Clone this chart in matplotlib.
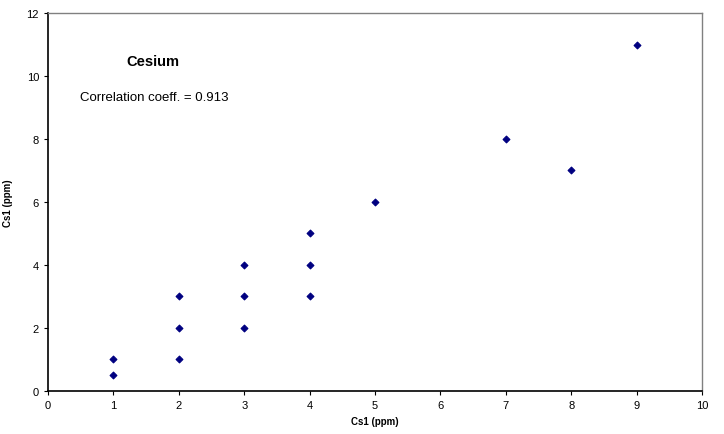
import matplotlib.pyplot as plt

plt.rcParams['font.family'] = ['Liberation Sans', 'DejaVu Sans']

x_vals = [1, 1, 2, 2, 2, 3, 3, 3, 4, 4, 4, 5, 7, 8, 9]
y_vals = [1, 0.5, 3, 2, 1, 4, 3, 2, 5, 4, 3, 6, 8, 7, 11]
x_ticks = list(range(0, 11))
y_ticks = [0, 2, 4, 6, 8, 10, 12]

fig = plt.figure(figsize=(7.24, 4.35), dpi=100)
ax = fig.add_axes([0.0663, 0.0989, 0.9033, 0.8689])

ax.scatter(x_vals, y_vals, marker='D', s=12, color='#000080', edgecolors='#000080', linewidths=0.8, zorder=3)

ax.set_xlim(0, 10)
ax.set_ylim(0, 12)
ax.set_xticks(x_ticks)
ax.set_yticks(y_ticks)
ax.tick_params(labelsize=8, length=3, width=0.8, direction='out')

for side in ['top', 'right']:
    ax.spines[side].set_color('#808080')
    ax.spines[side].set_linewidth(1.0)
for side in ['left', 'bottom']:
    ax.spines[side].set_color('black')
    ax.spines[side].set_linewidth(1.2)

ax.set_xlabel('Cs1 (ppm)', fontsize=7, fontweight='bold', labelpad=4)
ax.set_ylabel('Cs1 (ppm)', fontsize=7, fontweight='bold', labelpad=10)

ax.text(1.6, 10.48, 'Cesium', fontsize=10.5, fontweight='bold', ha='center', va='center')
ax.text(0.49, 9.33, 'Correlation coeff. = 0.913', fontsize=9.5, ha='left', va='center')

fig.savefig('out.png', dpi=100)
